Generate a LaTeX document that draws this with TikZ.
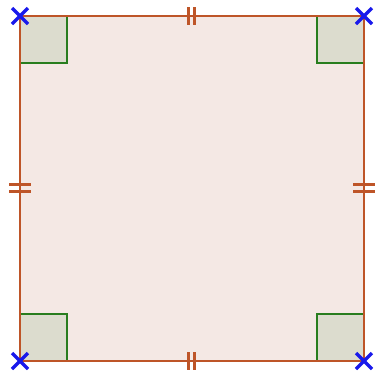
\documentclass[tikz,border=0pt]{standalone}
\usetikzlibrary{calc}
\definecolor{edgec}{RGB}{190,85,40}
\definecolor{fillc}{RGB}{244,232,228}
\definecolor{angc}{RGB}{40,125,30}
\definecolor{angf}{RGB}{220,220,206}
\definecolor{crossc}{RGB}{25,25,235}
\tikzset{
  edge/.style={draw=edgec,line width=2.4pt},
  tickm/.style={draw=edgec,line width=2.6pt},
  rangle/.style={draw=angc,line width=2.4pt},
  crossm/.style={draw=crossc,line width=3.2pt}
}
\begin{document}
\begin{tikzpicture}[x=1pt,y=-1pt]
\useasboundingbox (0,0) rectangle (376,376);
\coordinate (A) at (20,16);
\coordinate (B) at (364,16);
\coordinate (C) at (364,361);
\coordinate (D) at (20,361);
\fill[fillc] (A) -- (B) -- (C) -- (D) -- cycle;
% right angle marks
\fill[angf] (20,16) rectangle (67,63);
\fill[angf] (317,16) rectangle (364,63);
\fill[angf] (20,314) rectangle (67,361);
\fill[angf] (317,314) rectangle (364,361);
\draw[rangle] (20,63) -- (67,63) -- (67,16);
\draw[rangle] (317,16) -- (317,63) -- (364,63);
\draw[rangle] (20,314) -- (67,314) -- (67,361);
\draw[rangle] (317,361) -- (317,314) -- (364,314);
% edges
\draw[edge] (A) -- (B) -- (C) -- (D) -- cycle;
% ticks
\draw[tickm] (188.5,7) -- (188.5,25) (194.5,7) -- (194.5,25);
\draw[tickm] (188.5,352) -- (188.5,370) (194.5,352) -- (194.5,370);
\draw[tickm] (9,184.5) -- (31,184.5) (9,191.5) -- (31,191.5);
\draw[tickm] (353,184.5) -- (375,184.5) (353,191.5) -- (375,191.5);
% crosses
\foreach \p in {A,B,C,D}{
  \draw[crossm] ($(\p)+(-8,-8)$) -- ($(\p)+(8,8)$) ($(\p)+(-8,8)$) -- ($(\p)+(8,-8)$);
}
\end{tikzpicture}
\end{document}
